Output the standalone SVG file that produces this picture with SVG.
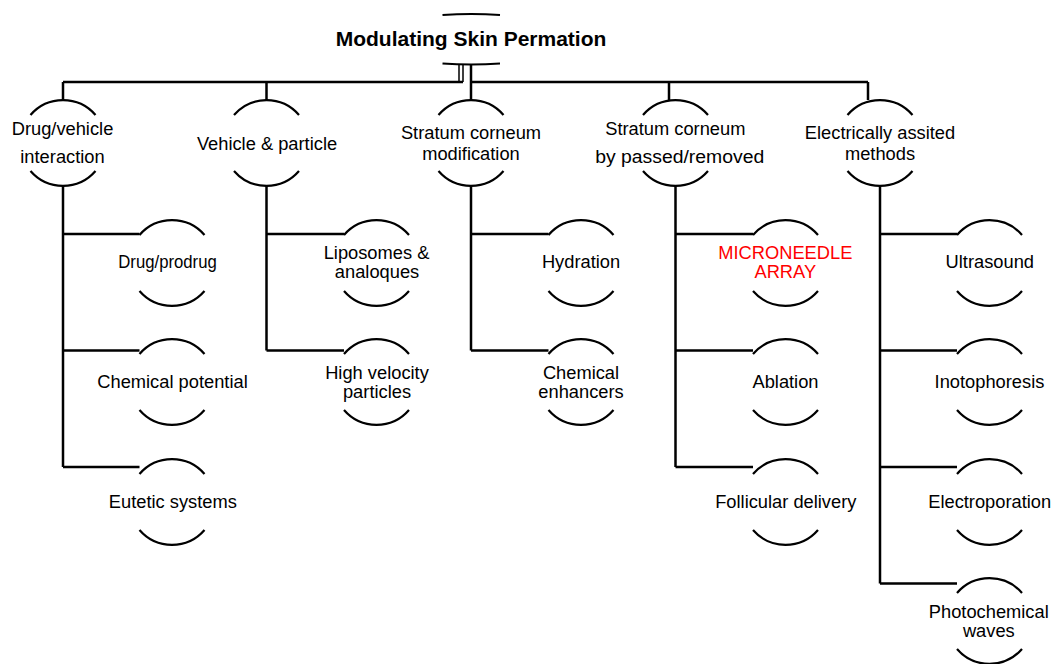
<svg xmlns="http://www.w3.org/2000/svg" width="1054" height="664" viewBox="0 0 1054 664">
<style>
.arc{fill:none;stroke:#000;stroke-width:2.2}
.ln{fill:none;stroke:#000;stroke-width:2.5}
.thin{fill:none;stroke:#000;stroke-width:1.5}
text{font-family:"Liberation Sans",Arial,sans-serif;font-size:18.3px;fill:#000;text-anchor:middle}
.title{font-weight:bold;font-size:21px}
.red{fill:#ff0000}
</style>
<defs>
<path id="nd" class="arc" d="M-32.5,-28 A43,43 0 0 1 32.5,-28 M-32.5,28 A43,43 0 0 0 32.5,28"/>
</defs>
<rect width="1054" height="664" fill="#fff"/>
<g id="connectors">
<path class="ln" d="M63,82 H463 M471,82 H868"/>
<path class="thin" d="M459,64 V82 M463,64 V82"/>
<path class="ln" d="M471,64 V100"/>
<path class="ln" d="M63,82 V100 M266.5,82 V100 M669,82 V100 M868,82 V100"/>
<path class="ln" d="M63,186 V467 M266.5,186 V350.5 M471,186 V350.5 M675.5,186 V467 M880,186 V583.5"/>
<path class="ln" d="M63,234 H139.5 M63,350.5 H139.5 M63,467 H139.5"/>
<path class="ln" d="M266.5,234 H344 M266.5,350.5 H344"/>
<path class="ln" d="M471,234 H548.5 M471,350.5 H548.5"/>
<path class="ln" d="M675.5,234 H753 M675.5,350.5 H753 M675.5,467 H753"/>
<path class="ln" d="M880,234 H957 M880,350.5 H957 M880,467 H957 M880,583.5 H957"/>
</g>
<g id="title">
<path class="arc" d="M442.5,15 Q471.5,13 500,15 M442.5,63.5 Q471.5,65.5 500,63.5"/>
<text class="title" x="471" y="46">Modulating Skin Permation</text>
</g>
<g id="n1"><use href="#nd" x="63" y="143"/><text x="62.5" y="135">Drug/vehicle</text><text x="62.5" y="163.3">interaction</text></g>
<g id="n2"><use href="#nd" x="266.5" y="143"/><text x="267" y="149.5">Vehicle &amp; particle</text></g>
<g id="n3"><use href="#nd" x="471" y="143"/><text x="471" y="139.3">Stratum corneum</text><text x="471" y="160">modification</text></g>
<g id="n4"><use href="#nd" x="675.5" y="143"/><text x="675.3" y="135">Stratum corneum</text><text x="679.7" y="163.3" textLength="169" lengthAdjust="spacingAndGlyphs">by passed/removed</text></g>
<g id="n5"><use href="#nd" x="880" y="143"/><text x="880" y="139.3">Electrically assited</text><text x="880" y="160">methods</text></g>

<g id="c1a"><use href="#nd" x="172" y="263"/><text x="167.5" y="268.3" textLength="98.5" lengthAdjust="spacingAndGlyphs">Drug/prodrug</text></g>
<g id="c1b"><use href="#nd" x="172" y="382"/><text x="172.5" y="388.3">Chemical potential</text></g>
<g id="c1c"><use href="#nd" x="172" y="502"/><text x="172.8" y="508.3">Eutetic systems</text></g>

<g id="c2a"><use href="#nd" x="376.5" y="263"/><text x="376.5" y="259.3">Liposomes &amp;</text><text x="377" y="278.3">analoques</text></g>
<g id="c2b"><use href="#nd" x="376.5" y="382"/><text x="377" y="378.5">High velocity</text><text x="377" y="398.3">particles</text></g>

<g id="c3a"><use href="#nd" x="581" y="263"/><text x="581" y="268.3">Hydration</text></g>
<g id="c3b"><use href="#nd" x="581" y="382"/><text x="581" y="378.5">Chemical</text><text x="581" y="398.3">enhancers</text></g>

<g id="c4a"><use href="#nd" x="785.5" y="263"/><text class="red" x="785.3" y="259.3">MICRONEEDLE</text><text class="red" x="785.3" y="278.3">ARRAY</text></g>
<g id="c4b"><use href="#nd" x="785.5" y="382"/><text x="785.5" y="388.3">Ablation</text></g>
<g id="c4c"><use href="#nd" x="785.5" y="502"/><text x="785.8" y="508.3">Follicular delivery</text></g>

<g id="c5a"><use href="#nd" x="989.5" y="263"/><text x="989.8" y="268.3">Ultrasound</text></g>
<g id="c5b"><use href="#nd" x="989.5" y="382"/><text x="989.5" y="388.3">Inotophoresis</text></g>
<g id="c5c"><use href="#nd" x="989.5" y="502"/><text x="989.7" y="508.3">Electroporation</text></g>
<g id="c5d"><use href="#nd" x="989.5" y="621"/><text x="988.8" y="618.3">Photochemical</text><text x="988.8" y="637.3">waves</text></g>
</svg>
